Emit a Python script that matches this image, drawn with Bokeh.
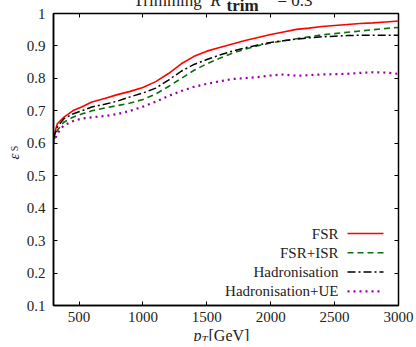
import math
from bokeh.plotting import figure
from bokeh.models import Range1d, LinearAxis, FixedTicker
from bokeh.embed import file_html
from bokeh.resources import INLINE
from bokeh.core.properties import value

# ---- data ----
pt = [300, 330, 380, 450, 520, 600, 700, 800, 900, 1000, 1100, 1200, 1300, 1400, 1500,
      1600, 1700, 1800, 1900, 2000, 2100, 2200, 2300, 2400, 2500, 2600, 2700, 2800, 2900, 3000]
fsr = [0.620, 0.660, 0.680, 0.700, 0.712, 0.727, 0.738, 0.750, 0.760, 0.772, 0.790, 0.815, 0.845,
       0.868, 0.884, 0.895, 0.906, 0.917, 0.926, 0.935, 0.943, 0.951, 0.955, 0.960, 0.963, 0.966,
       0.969, 0.971, 0.974, 0.977]
fsr_isr = [0.605, 0.640, 0.665, 0.680, 0.690, 0.700, 0.709, 0.716, 0.724, 0.735, 0.752, 0.775, 0.800,
           0.825, 0.845, 0.862, 0.878, 0.890, 0.901, 0.909, 0.916, 0.922, 0.928, 0.934, 0.938, 0.942,
           0.946, 0.950, 0.954, 0.957]
hadronisation = [0.615, 0.650, 0.675, 0.690, 0.700, 0.712, 0.720, 0.730, 0.743, 0.755, 0.770, 0.795,
                 0.822, 0.843, 0.858, 0.872, 0.884, 0.894, 0.903, 0.911, 0.916, 0.921, 0.925, 0.928,
                 0.930, 0.932, 0.933, 0.933, 0.933, 0.933]
hadronisation_ue = [0.600, 0.630, 0.655, 0.668, 0.676, 0.680, 0.684, 0.690, 0.700, 0.713, 0.728, 0.746,
                    0.761, 0.774, 0.783, 0.791, 0.798, 0.801, 0.804, 0.809, 0.812, 0.808, 0.810, 0.812,
                    0.813, 0.814, 0.817, 0.819, 0.818, 0.814]
series_names = ["FSR", "FSR+ISR", "Hadronisation", "Hadronisation+UE"]
x_ticks = [500, 1000, 1500, 2000, 2500, 3000]
y_ticks = [0.1, 0.2, 0.3, 0.4, 0.5, 0.6, 0.7, 0.8, 0.9, 1.0]
y_tick_labels = ["0.1", "0.2", "0.3", "0.4", "0.5", "0.6", "0.7", "0.8", "0.9", "1"]
x_tick_labels = ["500", "1000", "1500", "2000", "2500", "3000"]

# ---- layout (canvas pixels) ----
X0, X1, Y0, Y1 = 300, 3000, 0.1, 1.0
W, H = 416, 347
FL, FT, FW, FH = 53, 13, 345, 292      # plot frame in the page
FONT = "'Liberation Serif', 'DejaVu Serif', serif"
TXT = "#222222"
OVERLAY_SHIFT = 6                       # page gap between the two roots

def px2x(sx):
    return X0 + (sx - FL) * (X1 - X0) / FW

def px2y(sy):
    return Y1 - (sy - FT) * (Y1 - Y0) / FH

# ---- main plot ----
p = figure(frame_width=FW, frame_height=FH,
           min_border_left=FL, min_border_top=FT,
           min_border_right=W - FL - FW, min_border_bottom=H - FT - FH,
           x_range=Range1d(X0, X1), y_range=Range1d(Y0, Y1),
           x_axis_location=None, y_axis_location=None,
           output_backend="svg", toolbar_location=None)
p.grid.visible = False
p.outline_line_color = "black"
p.outline_line_width = 1.5
p.border_fill_color = "white"
p.background_fill_color = "white"
p.margin = (0, 0, 0, 0)

def make_axis(ticks, labels, show):
    ax = LinearAxis(ticker=FixedTicker(ticks=ticks),
                    major_tick_in=4, major_tick_out=0,
                    minor_tick_in=0, minor_tick_out=0,
                    axis_line_color="black", axis_line_width=1.5,
                    major_tick_line_color="black", major_tick_line_width=1,
                    major_label_text_font=FONT, major_label_text_font_size="15px",
                    major_label_text_color=TXT)
    if show:
        ax.major_label_overrides = {t: l for t, l in zip(ticks, labels)}
    else:
        ax.major_label_overrides = {t: "" for t in ticks}
        ax.major_label_text_font_size = "0px"
        ax.major_label_standoff = 0
        ax.axis_line_color = None
    return ax

bx = make_axis(x_ticks, x_tick_labels, True)
bx.major_label_standoff = 6
ly = make_axis(y_ticks, y_tick_labels, True)
ly.major_label_standoff = 8
p.add_layout(bx, "below")
p.add_layout(ly, "left")
p.add_layout(make_axis(x_ticks, x_tick_labels, False), "above")
p.add_layout(make_axis(y_ticks, y_tick_labels, False), "right")

styles = [
    dict(color="#ff0000", line_width=1.6, line_dash="solid"),
    dict(color="#0d6e0d", line_width=1.6, line_dash="6 4"),
    dict(color="#000000", line_width=1.5, line_dash="8 3 2 3"),
    dict(color="#9900a8", line_width=2.2, line_dash="2 4"),
]
all_series = [fsr, fsr_isr, hadronisation, hadronisation_ue]
for vals, st in zip(all_series, styles):
    p.line(pt, vals, **st)

# legend: right-aligned text with the line sample on its right
leg_y = [px2y(233 + i * 19.3) for i in range(len(series_names))]
p.text(x=[px2x(338)] * len(series_names), y=leg_y, text=series_names,
       text_align="right", text_baseline="middle",
       text_font=value(FONT), text_font_size="15px", text_color=TXT)
for yy, st in zip(leg_y, styles):
    p.line([px2x(347), px2x(383)], [yy, yy], **st)

# ---- transparent overlay (separate root) holding title and axis titles ----
t = figure(frame_width=W, frame_height=H, min_border=0,
           x_range=Range1d(0, W), y_range=Range1d(H, 0),
           x_axis_location=None, y_axis_location=None,
           output_backend="svg", toolbar_location=None)
t.grid.visible = False
t.outline_line_color = None
t.background_fill_color = None
t.border_fill_color = None
t.margin = (-H - OVERLAY_SHIFT, 0, 0, 0)

def put(x, y, txt, size, style="normal", angle=0.0, align="left"):
    t.text(x=[x], y=[y], text=[txt], text_font=value(FONT), text_font_size=size,
           text_font_style=style, angle=angle, text_align=align,
           text_baseline="alphabetic", text_color=TXT)

# title, cut off by the page top as in the reference
put(133, 5.5, "Trimming", "17px")
put(210, 5.5, "R", "17px", "italic")
put(226, 10.5, "trim", "17px", "bold")
put(277, 5.5, "= 0.3", "17px")

# y axis title
put(13, 162, "ε", "15px", "italic", math.pi / 2, "center")
put(14, 154, "S", "10px", "normal", math.pi / 2, "center")

# x axis title
put(193, 341, "p", "16px", "italic")
put(201, 344, "T", "11px", "italic")
put(208, 341, "[GeV]", "16px")

open("out.html", "w").write(file_html([p, t], INLINE))
